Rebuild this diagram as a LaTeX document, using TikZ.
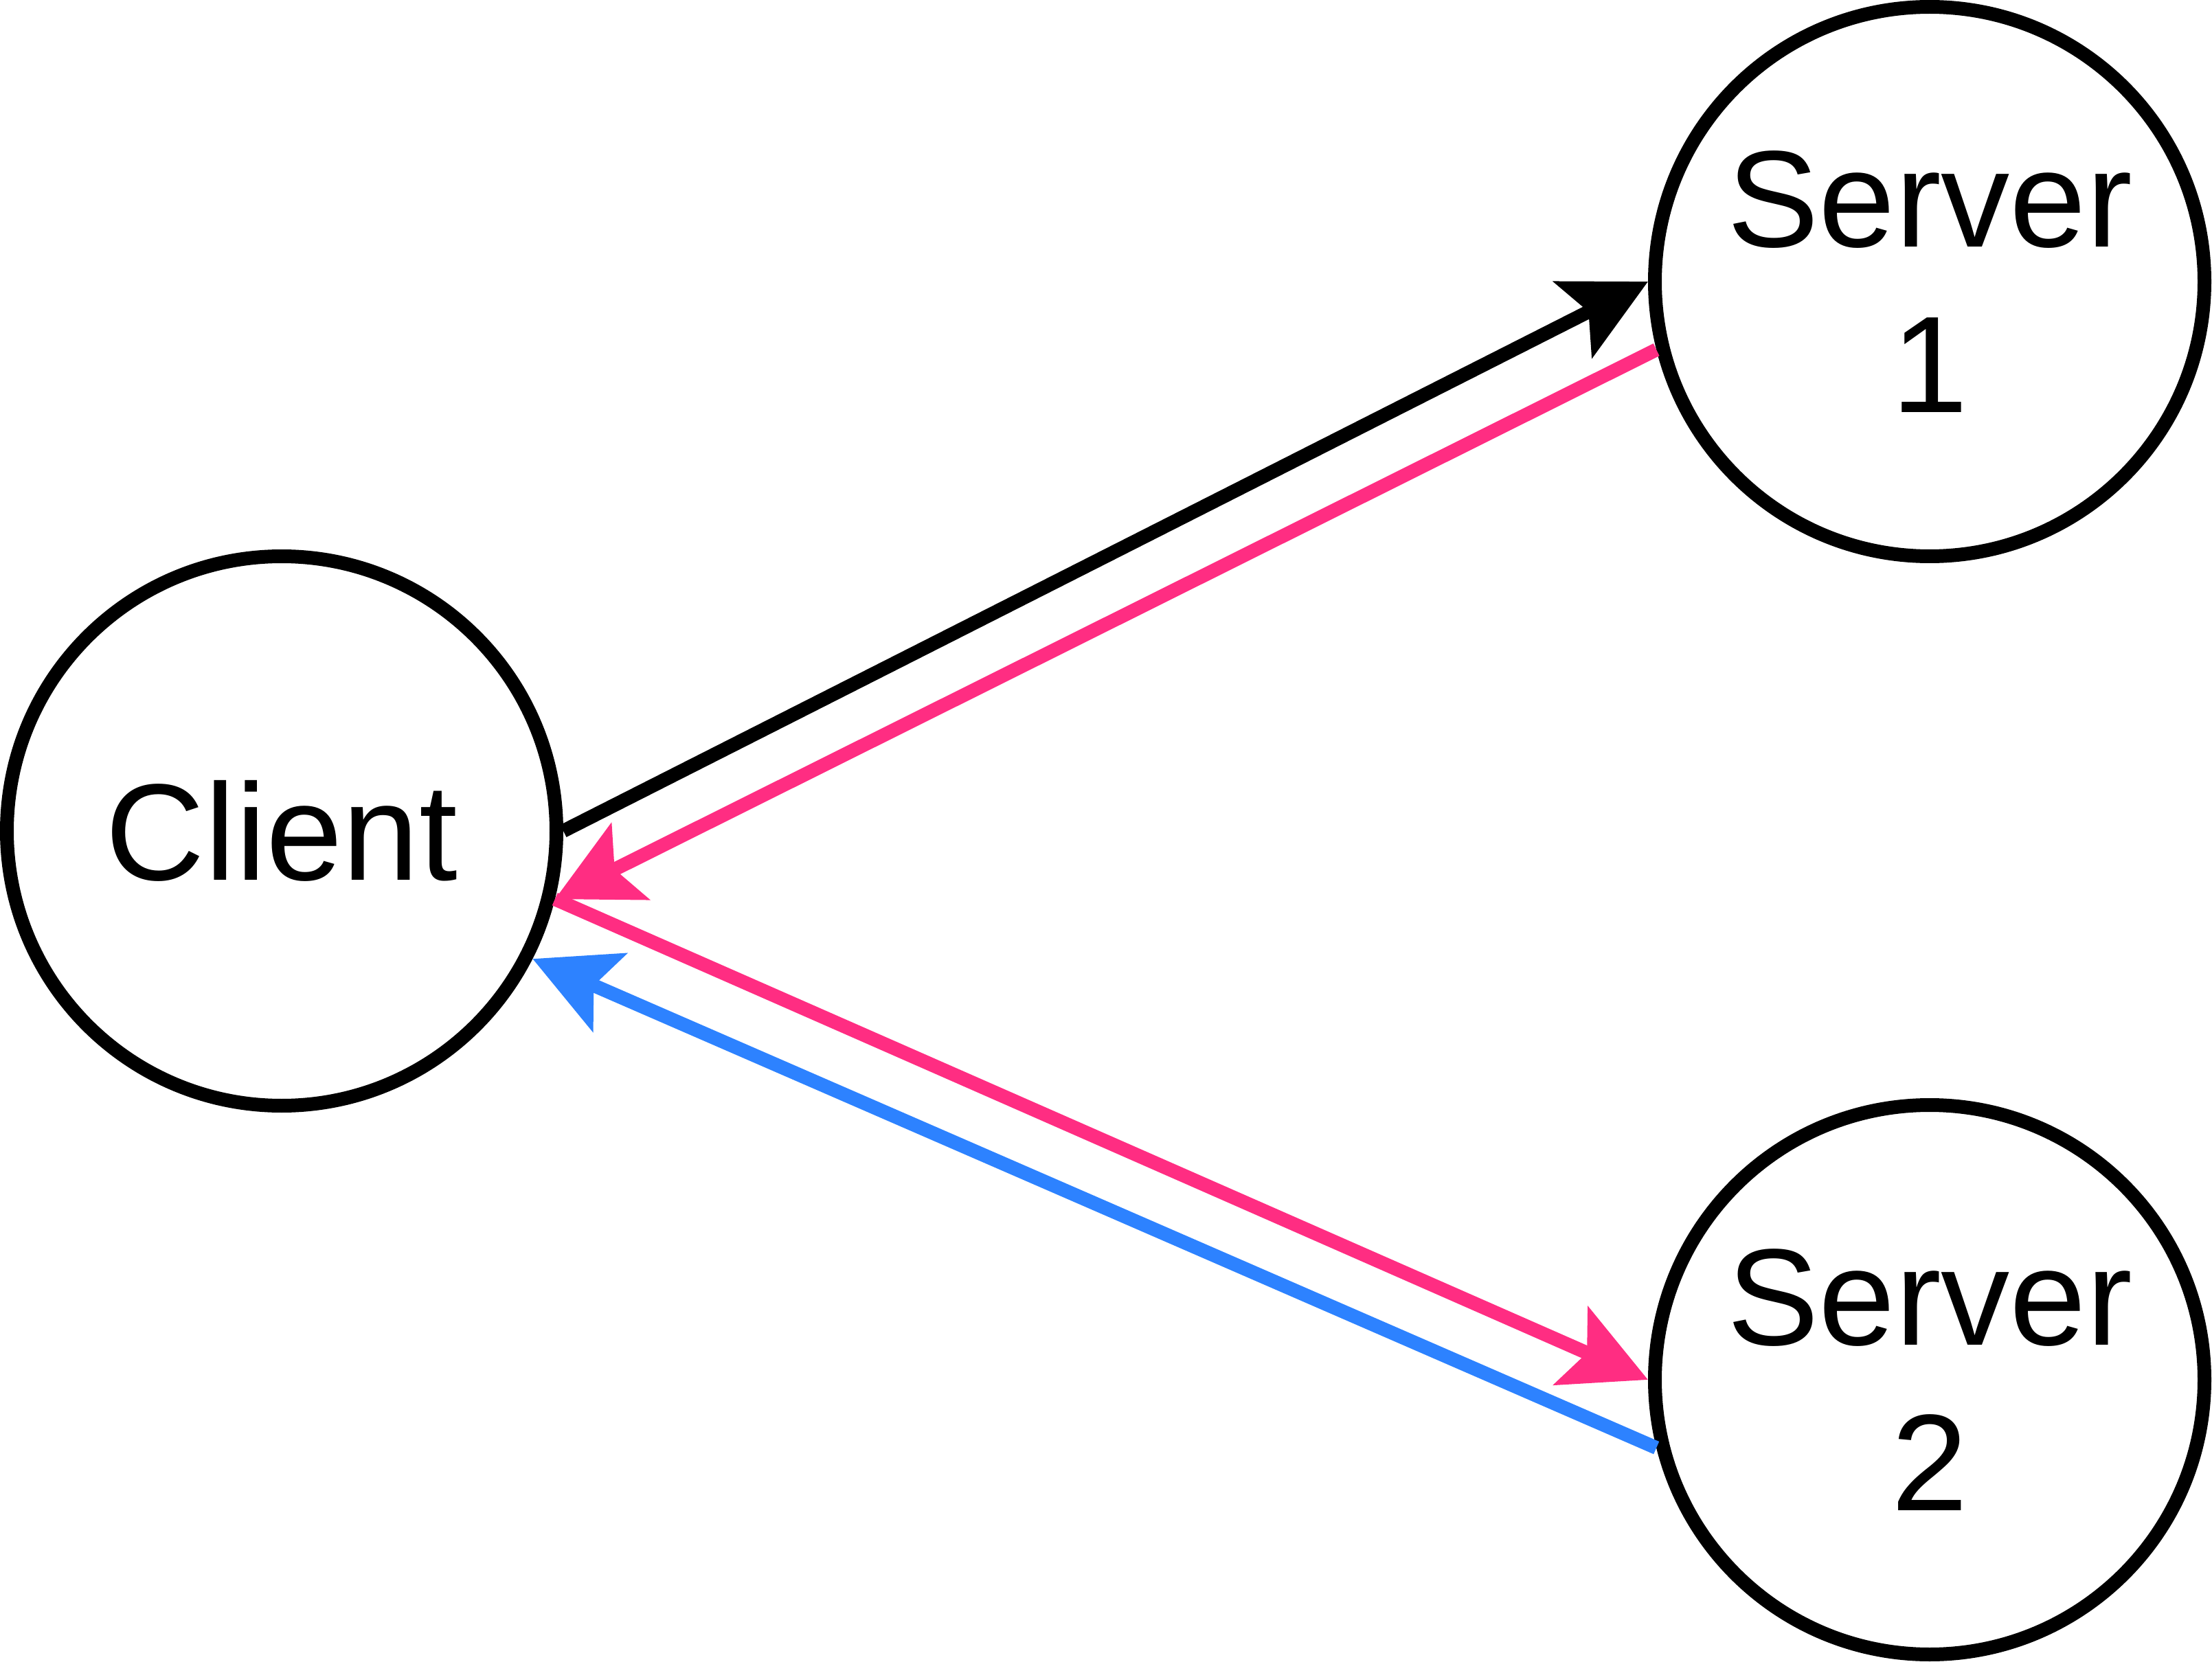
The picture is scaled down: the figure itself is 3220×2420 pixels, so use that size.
\documentclass[tikz,border=0pt]{standalone}
\usepackage{fontspec}
\setmainfont{Liberation Sans}
\usetikzlibrary{arrows.meta}
\definecolor{reqpink}{RGB}{255,45,130}
\definecolor{ackblue}{RGB}{45,130,255}
\begin{document}
\begin{tikzpicture}[x=0.1mm, y=-0.1mm,
  peer/.style={circle, draw, line width=2mm, minimum size=80mm, inner sep=0pt, align=center, font=\fontsize{57}{68.4}\selectfont},
  msg/.style={line width=2mm, -{Stealth[length=12.2mm, width=12.3mm, inset=2.5mm]}}]
\useasboundingbox (0,0) rectangle (3220,2420);
\node[peer] (client) at (410,1210) {Client};
\node[peer] (server1) at (2809,410) {Server\\1};
\node[peer] (server2) at (2809,2009) {Server\\2};
\draw[msg] (client.east) -- (server1.west);
\draw[msg, reqpink] (server1.194) -- (client.-14);
\draw[msg, reqpink] (client.-14) -- (server2.west);
\draw[msg, ackblue] (server2.194) -- (client.-27);
\end{tikzpicture}
\end{document}
